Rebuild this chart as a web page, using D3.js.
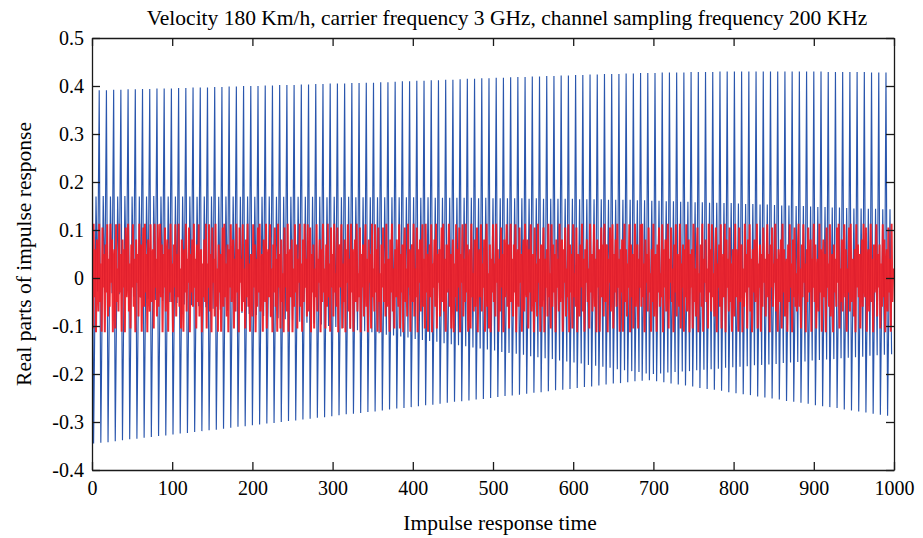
<!DOCTYPE html>
<html>
<head>
<meta charset="utf-8">
<script src="https://cdn.jsdelivr.net/npm/d3@7"></script>
<style>
  html, body { margin: 0; padding: 0; background: #fff; }
  svg { display: block; }
  text { font-family: "Liberation Serif", "Times New Roman", serif; fill: #000; }
</style>
</head>
<body>
<svg id="chart" width="923" height="538"></svg>
<script>
// ---------------- data ----------------
const titleText = "Velocity 180 Km/h, carrier frequency 3 GHz, channel sampling frequency 200 KHz";
const xLabel = "Impulse response time";
const yLabel = "Real parts of impulse response";
const xTicks = [0,100,200,300,400,500,600,700,800,900,1000];
const xTickLabels = ["0","100","200","300","400","500","600","700","800","900","1000"];
const yTicks = [-0.4,-0.3,-0.2,-0.1,0,0.1,0.2,0.3,0.4,0.5];
const yTickLabels = ["-0.4","-0.3","-0.2","-0.1","0","0.1","0.2","0.3","0.4","0.5"];

// blue response: one burst every 9 samples (period start = 9*k)
const bluePeriod = 9;
const bluePeak = [
 .390,.391,.391,.392,.392,.393,.393,.394,.394,.395,.395,
 .395,.396,.396,.397,.397,.397,.398,.398,.399,.399,.400,
 .400,.400,.401,.401,.402,.402,.402,.403,.403,.404,.404,
 .405,.405,.405,.406,.406,.407,.407,.408,.408,.409,.410,
 .410,.411,.411,.412,.412,.413,.413,.414,.415,.415,.416,
 .416,.417,.417,.418,.419,.419,.420,.420,.421,.421,.422,
 .422,.423,.423,.424,.424,.425,.425,.425,.426,.426,.427,
 .427,.427,.428,.428,.428,.428,.429,.429,.429,.429,.430,
 .430,.430,.430,.430,.430,.430,.430,.430,.430,.430,.430,
 .430,.430,.430,.429,.429,.429,.429,.429,.429,.428,.428,
 .428];
const blueTrough = [
 -.345,-.343,-.342,-.340,-.338,-.336,-.335,-.333,-.331,-.329,-.328,
 -.326,-.324,-.323,-.321,-.319,-.317,-.316,-.314,-.312,-.310,-.309,
 -.307,-.305,-.303,-.302,-.300,-.298,-.297,-.295,-.293,-.291,-.290,
 -.288,-.286,-.284,-.283,-.281,-.279,-.278,-.276,-.274,-.272,-.271,
 -.269,-.267,-.265,-.264,-.262,-.260,-.258,-.257,-.255,-.253,-.252,
 -.250,-.248,-.246,-.245,-.243,-.241,-.239,-.238,-.236,-.234,-.233,
 -.231,-.229,-.227,-.226,-.224,-.222,-.220,-.219,-.217,-.215,-.214,
 -.213,-.215,-.217,-.220,-.222,-.224,-.226,-.229,-.231,-.233,-.235,
 -.238,-.240,-.242,-.244,-.247,-.249,-.251,-.253,-.256,-.258,-.260,
 -.262,-.265,-.267,-.269,-.271,-.274,-.276,-.278,-.280,-.283,-.285,
 -.287];
const blueSubPeak = [
 .170,.171,.170,.170,.171,.170,.170,.170,.171,.170,.170,
 .170,.170,.170,.169,.170,.170,.169,.170,.170,.169,.170,
 .169,.169,.170,.169,.169,.169,.169,.169,.169,.169,.168,
 .169,.168,.169,.168,.168,.168,.168,.168,.168,.168,.168,
 .168,.167,.168,.167,.167,.167,.167,.167,.167,.166,.167,
 .166,.166,.166,.166,.166,.165,.166,.165,.165,.165,.165,
 .165,.164,.164,.164,.164,.163,.163,.163,.163,.162,.162,
 .161,.161,.160,.160,.159,.159,.158,.158,.157,.157,.156,
 .156,.155,.154,.154,.153,.153,.152,.151,.151,.150,.150,
 .149,.148,.148,.147,.147,.146,.145,.145,.144,.144,.143,
 .143];
const blueSubTrough = [
 -.028,-.030,-.032,-.034,-.037,-.039,-.041,-.043,-.046,-.048,-.050,
 -.052,-.055,-.057,-.059,-.061,-.064,-.066,-.068,-.070,-.073,-.075,
 -.077,-.079,-.082,-.084,-.086,-.088,-.091,-.093,-.095,-.097,-.100,
 -.102,-.104,-.106,-.109,-.111,-.113,-.115,-.118,-.120,-.122,-.124,
 -.127,-.129,-.131,-.133,-.136,-.138,-.140,-.142,-.145,-.147,-.149,
 -.151,-.154,-.156,-.158,-.160,-.163,-.165,-.167,-.169,-.172,-.174,
 -.176,-.178,-.181,-.183,-.185,-.187,-.190,-.192,-.194,-.196,-.199,
 -.200,-.199,-.197,-.196,-.195,-.194,-.192,-.191,-.190,-.189,-.187,
 -.186,-.185,-.184,-.182,-.181,-.180,-.179,-.177,-.176,-.175,-.174,
 -.172,-.171,-.170,-.169,-.167,-.166,-.165,-.164,-.162,-.161,-.160,
 -.159];
// sample offsets of the four features inside one burst
const blueOffsets = [0, 2, 5, 7];

// red response: one value per sample
const redValues = [
 .02,-.105,.113,-.04,.06,-.113,.08,.01,-.07,.113,-.05,.03,-.112,.105,-.02,.05,-.113,.07,-.03,.112,
 -.08,.04,-.06,.113,-.01,.08,-.113,.03,.06,-.105,.112,-.05,.02,-.07,.113,-.03,.05,-.112,.08,-.02,
 .06,-.113,.105,-.04,.01,.113,-.07,.03,-.105,.07,-.02,.112,-.06,.04,-.113,.08,-.01,.05,-.08,.113,
 -.04,.07,-.112,.02,.105,-.06,.113,-.03,.05,-.113,.08,-.01,-.07,.112,-.05,.03,.06,-.105,.113,-.02,
 .04,-.08,.112,-.06,.01,.113,-.04,.07,-.113,.05,-.02,.105,-.07,.03,.08,-.112,.06,-.03,.113,-.05,
 .03,-.113,.07,-.02,.112,-.08,.05,-.04,.113,-.06,.02,-.105,.08,.01,-.112,.06,-.03,.113,-.07,.04,
 -.01,.105,-.113,.05,-.03,.08,-.06,.113,-.02,.04,-.105,.07,-.05,.112,-.08,.02,.06,-.113,.03,-.04,
 .08,-.05,.113,-.105,.03,-.02,.112,-.07,.05,-.113,.105,-.01,.04,-.08,.113,-.06,.02,-.112,.07,-.03,
 .05,-.112,.02,.105,-.06,.113,-.04,.03,-.08,.07,-.113,.06,-.02,.112,-.05,.01,.08,-.105,.04,-.07,
 .113,-.03,.06,-.113,.105,-.01,.04,-.07,.112,-.05,.02,-.105,.08,-.04,.113,-.06,.03,-.112,.05,.01,
 -.08,.112,-.02,.07,-.113,.04,-.06,.105,-.03,.113,-.07,.02,.05,-.112,.08,-.01,-.05,.113,-.105,.03,
 .06,-.04,.112,-.08,.02,-.113,.07,-.03,.105,-.06,.04,-.112,.113,-.02,.05,-.105,.08,-.05,.01,-.113,
 .105,-.02,.05,-.07,.113,-.112,.03,.06,-.04,.08,-.113,.02,-.06,.112,-.03,.07,-.105,.04,-.01,.113,
 -.06,.03,-.112,.08,-.05,.113,-.02,.04,-.08,.112,-.07,.01,.105,-.113,.05,-.03,.07,-.105,.02,-.04,
 .112,-.07,.04,-.01,.08,-.113,.06,-.05,.113,-.03,.02,-.105,.07,-.06,.113,-.04,.03,-.112,.105,-.02,
 .05,-.08,.113,-.03,.01,-.06,.105,-.113,.04,.07,-.02,.112,-.105,.03,-.05,.08,-.113,.06,-.01,.112,
 -.07,.04,-.105,.113,-.03,.06,-.112,.02,.08,-.05,.113,-.07,.01,-.04,.105,-.113,.05,-.02,.07,-.08,
 .03,.112,-.06,.04,-.113,.08,-.01,.05,-.105,.113,-.04,.02,-.07,.112,-.03,.06,-.112,.105,-.05,.01,
 -.113,.07,-.02,.105,-.05,.03,-.08,.113,-.06,.01,.04,-.112,.08,-.03,.113,-.07,.02,-.105,.06,-.04,
 .08,-.01,-.06,.112,-.105,.05,-.03,.07,-.113,.04,.105,-.05,.02,-.08,.113,-.02,.06,-.112,.03,.07,
 -.05,.113,-.08,.02,-.04,.105,-.113,.06,-.01,.08,-.07,.03,.112,-.06,.04,-.105,.113,-.03,.05,-.112,
 .01,.07,-.04,.112,-.113,.03,-.02,.08,-.06,.113,-.105,.05,-.01,.06,-.08,.02,.105,-.05,.113,-.07,
 .04,-.112,.07,-.03,.01,.113,-.06,.05,-.105,.02,.08,-.113,.03,-.04,.112,-.07,.06,-.02,.105,-.113,
 .05,-.01,.112,-.08,.04,-.05,.113,-.03,.07,-.112,.02,.06,-.105,.113,-.04,.01,-.07,.08,-.06,.03,
 .105,-.113,.02,.06,-.04,.112,-.07,.03,-.02,.08,-.112,.05,.113,-.06,.01,-.105,.07,-.113,.04,-.03,
 .112,-.05,.03,-.08,.113,-.01,.06,-.112,.04,-.07,.105,-.02,.05,-.113,.08,-.04,.02,.112,-.06,.07,
 -.105,.01,.113,-.05,.04,-.08,.07,-.03,.112,-.113,.02,.06,-.06,.105,-.01,.05,-.112,.03,.08,-.07,
 .113,-.02,-.04,.08,-.105,.06,-.03,.112,-.07,.01,.05,-.113,.105,-.05,.03,-.08,.113,-.01,.04,-.112,
 .07,-.06,.02,.105,-.113,.04,-.02,.06,-.08,.113,-.04,.01,-.105,.112,-.06,.07,-.03,.05,-.113,.08,
 -.02,.04,-.07,.113,-.05,.03,.08,-.112,.06,-.01,.105,-.08,.02,-.04,.112,-.113,.07,-.03,.05,-.105,
 .112,-.04,.01,-.06,.105,-.113,.05,.03,-.08,.07,-.02,.113,-.07,.04,-.112,.06,-.01,.08,-.05,.02,
 -.105,.113,-.03,.05,-.07,.02,.112,-.06,.04,-.113,.08,-.02,.06,-.112,.01,.105,-.04,.07,-.08,.113,
 -.05,.03,.07,-.113,.04,-.01,.105,-.07,.02,.112,-.105,.05,-.03,.08,-.06,.113,-.02,.04,-.112,.06,
 -.03,.08,-.112,.01,.113,-.05,.06,-.08,.03,-.02,.112,-.113,.07,-.04,.05,-.105,.02,.113,-.06,.01,
 .07,-.105,.04,-.02,.112,-.06,.113,-.04,.03,-.113,.08,-.01,.05,-.07,.105,-.03,.01,-.112,.06,-.05,
 .113,-.08,.02,.05,-.112,.07,-.03,.105,-.06,.01,-.04,.112,-.113,.06,-.02,.08,-.07,.03,.113,-.105,
 .04,-.01,.105,-.05,.02,-.113,.07,-.03,.112,-.08,.05,.01,-.06,.113,-.105,.03,-.02,.07,-.112,.06,
 -.04,.112,-.07,.03,.08,-.113,.05,-.02,.06,-.105,.113,-.05,.02,-.08,.04,.105,-.113,.01,-.03,.07,
 -.06,.113,-.112,.04,-.01,.08,-.05,.02,-.105,.113,-.03,.06,-.07,.112,-.04,.01,-.08,.05,.105,-.113,
 .03,-.02,.07,-.06,.112,-.105,.01,.05,-.04,.113,-.113,.08,-.02,.04,-.07,.105,-.05,.03,-.112,.06,
 .01,-.08,.113,-.04,.06,-.01,-.112,.105,-.05,.03,.07,-.113,.02,-.06,.113,-.03,.05,-.105,.08,-.02,
 .112,-.07,.04,-.113,.06,-.03,.08,-.05,.01,.113,-.105,.03,-.02,.07,-.112,.05,-.06,.105,-.01,.04,
 -.08,.02,.112,-.04,.05,-.113,.07,-.02,.105,-.06,.03,-.01,.113,-.07,.04,-.112,.06,.01,-.05,.08,
 -.105,.113,-.03,.06,-.08,.02,.04,-.112,.07,-.05,.112,-.02,.03,-.113,.08,-.04,.105,-.06,.01,-.07,
 .05,.113,-.06,.02,-.105,.07,-.04,.112,-.01,.03,-.113,.06,-.05,.105,-.03,.01,.08,-.112,.04,-.02,
 .113,-.05,.07,-.105,.01,.04,-.07,.113,-.03,.06,-.112,.02,.08,-.04,.05,-.113,.105,-.02,.03,-.06,
 .112,-.08,.01,.05,-.113,.07,-.03,.04,-.06,.105,-.01,.113,-.105,.02,-.05,.08,-.07,.03,.112,-.04,
 .06,-.112,.02,-.03,.105,-.07,.113,-.05,.01,.04,-.08,.06,-.113,.112,-.02,.07,-.04,.05,-.105,.03,
 .08,-.06,.113,-.01,-.04,.105,-.112,.03,.06,-.07,.02,.113,-.05,.04,-.113,.07,-.03,.01,.112,-.08,
 .05,-.02,.07,-.105,.03,-.06,.112,-.04,.08,-.113,.01,.06,-.07,.105,-.03,.04,-.112,.113,-.05,.02
];

// ---------------- build tables from the arrays ----------------
const bluePoints = [];
bluePeak.forEach((p, k) => {
  const feats = [p, blueTrough[k], blueSubPeak[k], blueSubTrough[k]];
  feats.forEach((v, j) => bluePoints.push({ t: k * bluePeriod + blueOffsets[j], v }));
});
const redPoints = redValues.map((v, i) => ({ t: i, v }));

// ---------------- layout ----------------
const svg = d3.select("#chart");
const L = 92, R = 894, T = 38, B = 470;
const x = d3.scaleLinear().domain([0, 1000]).range([L, R]);
const y = d3.scaleLinear().domain([-0.4, 0.5]).range([B, T]);

svg.append("defs").append("clipPath").attr("id", "plotClip")
  .append("rect").attr("x", L).attr("y", T).attr("width", R - L).attr("height", B - T);

const line = d3.line().x(d => x(d.t)).y(d => y(d.v));
const plot = svg.append("g").attr("clip-path", "url(#plotClip)");

plot.append("path").datum(bluePoints)
  .attr("d", line).attr("fill", "none")
  .attr("stroke", "#2a56ad").attr("stroke-width", 1.15)
  .attr("stroke-linejoin", "bevel");

plot.append("path").datum(redPoints)
  .attr("d", line).attr("fill", "none")
  .attr("stroke", "#ee1b24").attr("stroke-width", 2).attr("stroke-opacity", 0.93)
  .attr("stroke-linejoin", "bevel");

// ---------------- axes (MATLAB-style box, inward ticks) ----------------
const tickLen = 8;
const fmtX = d => xTickLabels[xTicks.indexOf(d)];
const fmtY = d => yTickLabels[yTicks.indexOf(d)];

const gx = svg.append("g").attr("transform", `translate(0,${B})`)
  .call(d3.axisBottom(x).tickValues(xTicks).tickFormat(fmtX).tickSizeInner(-tickLen).tickSizeOuter(0).tickPadding(11));
const gy = svg.append("g").attr("transform", `translate(${L},0)`)
  .call(d3.axisLeft(y).tickValues(yTicks).tickFormat(fmtY).tickSizeInner(-tickLen).tickSizeOuter(0).tickPadding(8));
const gt = svg.append("g").attr("transform", `translate(0,${T})`)
  .call(d3.axisTop(x).tickValues(xTicks).tickFormat("").tickSizeInner(-tickLen).tickSizeOuter(0));
const gr = svg.append("g").attr("transform", `translate(${R},0)`)
  .call(d3.axisRight(y).tickValues(yTicks).tickFormat("").tickSizeInner(-tickLen).tickSizeOuter(0));

[gx, gy, gt, gr].forEach(g => {
  g.selectAll(".domain").attr("stroke", "#1a1a1a").attr("stroke-width", 1.3);
  g.selectAll(".tick line").attr("stroke", "#1a1a1a").attr("stroke-width", 1.3);
  g.selectAll("text").attr("font-family", "Liberation Serif, serif").attr("font-size", 20).attr("fill", "#000");
});

// ---------------- titles ----------------
svg.append("text").attr("x", 507).attr("y", 25)
  .attr("text-anchor", "middle").attr("font-size", 21.5).text(titleText);
svg.append("text").attr("x", 500).attr("y", 530)
  .attr("text-anchor", "middle").attr("font-size", 21.5).text(xLabel);
svg.append("text").attr("transform", `translate(31,${(T + B) / 2}) rotate(-90)`)
  .attr("text-anchor", "middle").attr("font-size", 21.5).text(yLabel);
</script>
</body>
</html>
